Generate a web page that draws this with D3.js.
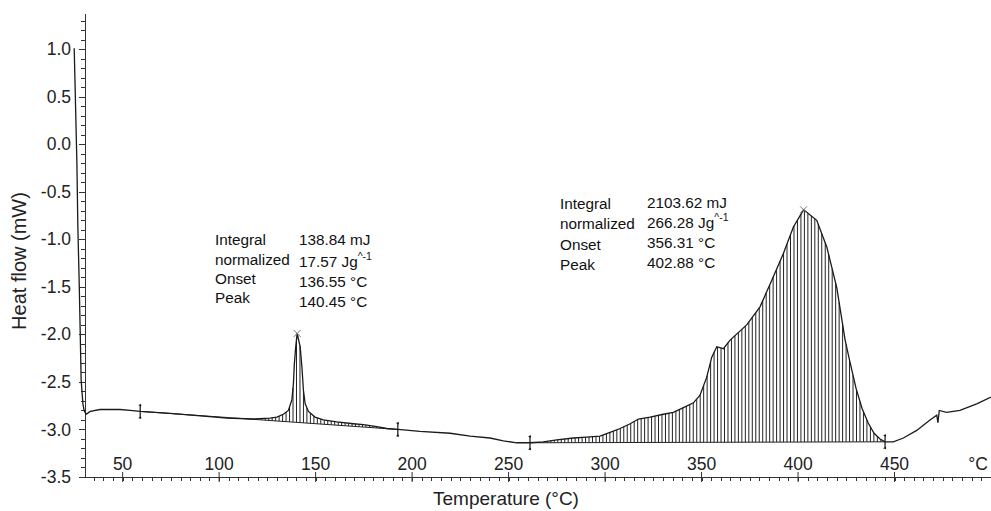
<!DOCTYPE html>
<html>
<head>
<meta charset="utf-8">
<script src="https://cdn.jsdelivr.net/npm/d3@7/dist/d3.min.js"></script>
<style>
  body { margin: 0; background: #fff; }
  svg { display: block; font-family: "Liberation Sans", Arial, sans-serif; }
  .axis path, .axis line { stroke: #333; shape-rendering: crispEdges; }
  .axis text { font-size: 17.5px; fill: #222; }
</style>
</head>
<body>
<svg id="chart"></svg>
<script>
// DSC trace: temperature (°C) and heat flow (mW)
const temps = [24.9, 25.5, 26.3, 26.8, 27.5, 28.0, 28.5, 29.4, 30.05, 31.1,
  33.2, 38.3, 48.7, 53.9, 59.1, 74.6, 91.9, 104.0, 117.8, 126.4,
  129.9, 133.3, 135.9, 137.7, 138.5, 139.0, 139.7, 140.45, 142.0, 142.9,
  143.7, 144.6, 146.3, 149.7, 154.0, 161.0, 169.6, 174.8, 181.7, 186.9,
  192.6, 204.1, 219.7, 230.1, 240.4, 247.3, 254.2, 261.1, 268.0, 275.0,
  283.6, 290.5, 297.4, 302.6, 307.8, 313.0, 317.3, 323.3, 330.2, 335.4,
  340.6, 345.8, 349.2, 352.7, 355.3, 357.9, 361.3, 364.8, 373.4, 380.3,
  386.4, 392.4, 397.6, 402.88, 409.7, 414.9, 420.1, 424.4, 426.9, 430.1,
  433.2, 436.3, 439.4, 442.5, 445.1, 449.4, 454.6, 461.5, 468.4, 471.9,
  472.5, 473.2, 477.0, 483.9, 492.6, 500.0];
const heatFlow = [1.01, 0.50, -0.20, -0.87, -1.46, -1.96, -2.48, -2.73, -2.80, -2.84,
  -2.81, -2.79, -2.79, -2.80, -2.81, -2.83, -2.86, -2.88, -2.89, -2.88,
  -2.87, -2.84, -2.80, -2.69, -2.52, -2.31, -2.13, -1.99, -2.13, -2.34,
  -2.59, -2.73, -2.81, -2.87, -2.90, -2.92, -2.94, -2.95, -2.97, -2.99,
  -3.00, -3.02, -3.04, -3.07, -3.09, -3.12, -3.14, -3.14, -3.13, -3.11,
  -3.09, -3.08, -3.07, -3.03, -2.99, -2.94, -2.89, -2.87, -2.84, -2.82,
  -2.77, -2.72, -2.64, -2.45, -2.24, -2.13, -2.15, -2.06, -1.90, -1.71,
  -1.43, -1.15, -0.87, -0.69, -0.80, -1.08, -1.51, -2.06, -2.29, -2.57,
  -2.78, -2.93, -3.04, -3.10, -3.13, -3.13, -3.09, -3.01, -2.90, -2.85,
  -2.93, -2.80, -2.82, -2.80, -2.73, -2.66];

// integration limits and peaks
const integralStart = [59.1, 261.1];
const integralEnd = [192.6, 445.1];
const peakTemps = [140.45, 402.88];

// annotation text
const infoLabels = ["Integral", "normalized", "Onset", "Peak"];
const peak1Values = ["138.84 mJ", "17.57 Jg", "136.55 °C", "140.45 °C"];
const peak2Values = ["2103.62 mJ", "266.28 Jg", "356.31 °C", "402.88 °C"];

// axis ticks
const xLabels = [50, 100, 150, 200, 250, 300, 350, 400, 450];
const xMinor = d3.range(35, 500, 5);
const yMajor = [1.0, 0.5, 0.0, -0.5, -1.0, -1.5, -2.0, -2.5, -3.0, -3.5];
const yMinor = d3.range(-34, 14).map(d => d / 10);

const width = 991, height = 511;
const svg = d3.select("#chart").attr("width", width).attr("height", height);

const x = d3.scaleLinear().domain([30.5, 500]).range([85, 991]);
const y = d3.scaleLinear().domain([-3.5, 1.38]).range([477, 13]);

const points = temps.map((t, i) => ({ t, v: heatFlow[i] }));

// linear lookup of the trace at a given temperature
function flowAt(t) {
  const i = d3.bisector(d => d).right(temps, t);
  if (i <= 0) return heatFlow[0];
  if (i >= temps.length) return heatFlow[temps.length - 1];
  const k = (t - temps[i - 1]) / (temps[i] - temps[i - 1]);
  return heatFlow[i - 1] + k * (heatFlow[i] - heatFlow[i - 1]);
}

// y axis
svg.append("g").attr("class", "axis")
  .attr("transform", "translate(85,0)")
  .call(d3.axisLeft(y).tickValues(yMinor).tickSize(4).tickSizeOuter(0).tickFormat(""));
svg.append("g").attr("class", "axis")
  .attr("transform", "translate(85,0)")
  .call(d3.axisLeft(y).tickValues(yMajor).tickSize(6).tickSizeOuter(0)
    .tickPadding(8).tickFormat(d => d.toFixed(1)))
  .call(g => g.select(".domain").remove());

// x axis
svg.append("g").attr("class", "axis")
  .attr("transform", "translate(0,477)")
  .call(d3.axisBottom(x).tickValues(xMinor).tickSize(4).tickSizeOuter(0).tickFormat(""));
svg.append("g").selectAll("line")
  .data(xLabels)
  .join("line")
  .attr("x1", d => x(d)).attr("x2", d => x(d))
  .attr("y1", 472).attr("y2", 482)
  .attr("stroke", "#333");

svg.append("g").selectAll("text")
  .data(xLabels)
  .join("text")
  .attr("x", d => x(d))
  .attr("y", 470)
  .attr("text-anchor", "middle")
  .attr("font-size", 17.5)
  .attr("fill", "#222")
  .text(d => d);

svg.append("text")
  .attr("x", 978).attr("y", 470)
  .attr("text-anchor", "middle")
  .attr("font-size", 17.5)
  .attr("fill", "#222")
  .text("°C");

// axis titles
svg.append("text")
  .attr("x", 506).attr("y", 505)
  .attr("text-anchor", "middle")
  .attr("font-size", 19)
  .attr("fill", "#222")
  .text("Temperature (°C)");

svg.append("text")
  .attr("transform", "translate(26,261) rotate(-90)")
  .attr("text-anchor", "middle")
  .attr("font-size", 20)
  .attr("fill", "#222")
  .text("Heat flow (mW)");

// hatching between trace and integration baseline
const hatchStep = 1.8;
integralStart.forEach((t0, i) => {
  const t1 = integralEnd[i];
  const b0 = flowAt(t0), b1 = flowAt(t1);
  const base = t => b0 + (t - t0) / (t1 - t0) * (b1 - b0);
  const hatches = d3.range(t0 + hatchStep, t1, hatchStep)
    .filter(t => flowAt(t) > base(t) + 0.005);

  svg.append("g").selectAll("line")
    .data(hatches)
    .join("line")
    .attr("x1", d => x(d)).attr("x2", d => x(d))
    .attr("y1", d => y(flowAt(d))).attr("y2", d => y(base(d)))
    .attr("stroke", "#222")
    .attr("stroke-width", 1);

  svg.append("line")
    .attr("x1", x(t0)).attr("y1", y(b0))
    .attr("x2", x(t1)).attr("y2", y(b1))
    .attr("stroke", "#222")
    .attr("stroke-width", 1);

  // integration limit markers
  [t0, t1].forEach(t => {
    const g = svg.append("g").attr("transform", `translate(${x(t)},${y(flowAt(t))})`);
    g.append("line").attr("y1", -6.5).attr("y2", 6.5).attr("stroke", "#111").attr("stroke-width", 1.2);
    g.append("path").attr("d", "M-2,-6.5L1,-7.5L1,-5Z M-2,6.5L1,7.5L1,5Z").attr("fill", "#111");
  });
});

// trace
const line = d3.line()
  .x(d => x(d.t))
  .y(d => y(d.v));

svg.append("path")
  .datum(points)
  .attr("fill", "none")
  .attr("stroke", "#1a1a1a")
  .attr("stroke-width", 1.3)
  .attr("d", line);

// peak crosses
svg.append("g").selectAll("path")
  .data(peakTemps)
  .join("path")
  .attr("transform", d => `translate(${x(d)},${y(flowAt(d))})`)
  .attr("d", "M-3.5,-3.5L3.5,3.5M-3.5,3.5L3.5,-3.5")
  .attr("stroke", "#777")
  .attr("stroke-width", 1);

// result blocks
function infoBlock(values, lx, vx, labelY, valueY) {
  const g = svg.append("g").attr("font-size", 15.3).attr("fill", "#111");
  infoLabels.forEach((lab, i) => {
    g.append("text").attr("x", lx).attr("y", labelY[i]).text(lab);
    const t = g.append("text").attr("x", vx).attr("y", valueY[i]).text(values[i]);
    if (i === 1) {
      t.append("tspan").attr("dy", -7).attr("font-size", 10.5).text("^-1");
    }
  });
}
infoBlock(peak1Values, 215, 299, [245, 264.5, 284, 303], [244.5, 266.5, 286.5, 307]);
infoBlock(peak2Values, 560, 647, [209, 229, 250, 270], [207.5, 228, 247.5, 267.5]);
</script>
</body>
</html>
